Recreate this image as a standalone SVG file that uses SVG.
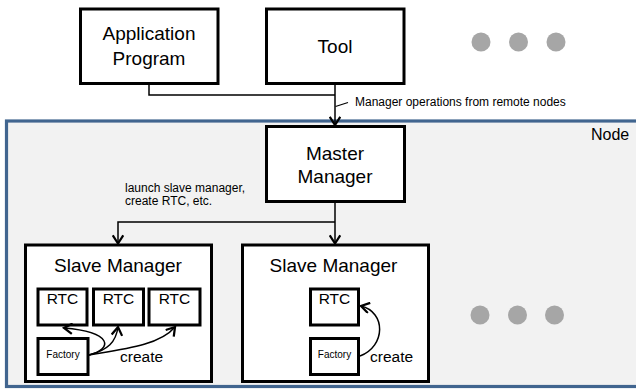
<svg xmlns="http://www.w3.org/2000/svg" width="636" height="389" viewBox="0 0 636 389">
  <style>
    .box { fill: #ffffff; stroke: #000000; stroke-width: 3; }
    .frame { fill: #f2f2f2; stroke: #41658f; stroke-width: 3.2; }
    .big { font-family: "Liberation Sans", Arial, sans-serif; font-size: 19px; fill: #000; text-anchor: middle; }
    .rtc { font-family: "Liberation Sans", Arial, sans-serif; font-size: 15.5px; fill: #000; text-anchor: middle; }
    .fac { font-family: "Liberation Sans", Arial, sans-serif; font-size: 10px; fill: #000; text-anchor: middle; }
    .note { font-family: "Liberation Sans", Arial, sans-serif; font-size: 12px; fill: #000; }
    .create { font-family: "Liberation Sans", Arial, sans-serif; font-size: 15.5px; fill: #000; }
    .wire { fill: none; stroke: #000; stroke-width: 1.5; }
    .dot { fill: #a6a6a6; }
  </style>
  <defs>
    <marker id="arrow" markerUnits="userSpaceOnUse" markerWidth="12" markerHeight="12" refX="6" refY="4" orient="auto" viewBox="0 0 7 8">
      <path d="M0.5,0.5 L6,4 L0.5,7.5" fill="none" stroke="#000" stroke-width="1.5"/>
    </marker>
  </defs>

  <!-- node frame -->
  <g id="node-frame">
    <rect class="frame" x="6.5" y="121" width="640" height="265.5"/>
    <text class="big" x="591" y="140" style="font-size:16px;text-anchor:start">Node</text>
  </g>

  <!-- clients -->
  <g id="application-program">
    <rect class="box" x="80.5" y="9" width="137.5" height="74.5"/>
    <text class="big" x="149" y="40">Application</text>
    <text class="big" x="149" y="65">Program</text>
  </g>
  <g id="tool">
    <rect class="box" x="266.5" y="9" width="137.5" height="74.5"/>
    <text class="big" x="335" y="53">Tool</text>
  </g>
  <g id="dots-top">
    <circle class="dot" cx="481" cy="42" r="9.5"/>
    <circle class="dot" cx="518.5" cy="42" r="9.5"/>
    <circle class="dot" cx="556" cy="42" r="9.5"/>
  </g>

  <!-- master manager -->
  <g id="master-manager">
    <rect class="box" x="266.5" y="126.5" width="138" height="75"/>
    <text class="big" x="335" y="159.5">Master</text>
    <text class="big" x="335" y="183">Manager</text>
  </g>

  <!-- slave managers -->
  <g id="slave-manager-1">
    <rect class="box" x="25.5" y="245" width="186" height="136.5"/>
    <text class="big" x="118" y="271.5">Slave Manager</text>
    <g id="rtc-1-1">
      <rect class="box" x="38" y="289" width="49" height="36"/>
      <text class="rtc" x="62.5" y="304">RTC</text>
    </g>
    <g id="rtc-1-2">
      <rect class="box" x="93.5" y="289" width="50" height="36"/>
      <text class="rtc" x="118.5" y="304">RTC</text>
    </g>
    <g id="rtc-1-3">
      <rect class="box" x="149" y="289" width="51" height="36"/>
      <text class="rtc" x="174.5" y="304">RTC</text>
    </g>
    <g id="factory-1">
      <rect class="box" x="38" y="338.5" width="50" height="36"/>
      <text class="fac" x="63" y="358">Factory</text>
    </g>
    <text class="create" x="120" y="362">create</text>
  </g>

  <g id="slave-manager-2">
    <rect class="box" x="242.5" y="245" width="186" height="136.5"/>
    <text class="big" x="333.5" y="271.5">Slave Manager</text>
    <g id="rtc-2-1">
      <rect class="box" x="310.5" y="289" width="48" height="36"/>
      <text class="rtc" x="334.5" y="304">RTC</text>
    </g>
    <g id="factory-2">
      <rect class="box" x="310.5" y="338.5" width="48" height="36"/>
      <text class="fac" x="334.5" y="358">Factory</text>
    </g>
    <text class="create" x="370" y="362">create</text>
  </g>

  <g id="dots-bottom">
    <circle class="dot" cx="480" cy="315" r="9.5"/>
    <circle class="dot" cx="517.5" cy="315" r="9.5"/>
    <circle class="dot" cx="554.5" cy="315" r="9.5"/>
  </g>

  <!-- connectors -->
  <g id="connectors">
    <path class="wire" d="M149,84 V95 H335"/>
    <path class="wire" d="M335,84 V125" marker-end="url(#arrow)"/>
    <path class="wire" d="M335.5,106.5 L348,102.5" style="stroke-width:1.2"/>
    <text class="note" x="355" y="106">Manager operations from remote nodes</text>

    <path class="wire" d="M335,202 V243.5" marker-end="url(#arrow)"/>
    <path class="wire" d="M335,222 H118 V243.5" marker-end="url(#arrow)"/>
    <text class="note" x="125" y="191.5">launch slave manager,</text>
    <text class="note" x="125" y="205">create RTC, etc.</text>

    <!-- factory creates RTCs -->
    <path class="wire" d="M89,355 C113,349 113,332 64,328" marker-end="url(#arrow)"/>
    <path class="wire" d="M89,355 C108,350 116,342 118,327" marker-end="url(#arrow)"/>
    <path class="wire" d="M89,355 C125,349 160,345 175,327" marker-end="url(#arrow)"/>
    <path class="wire" d="M360,356 C386,346 386,312 361,306" marker-end="url(#arrow)"/>
  </g>
</svg>
